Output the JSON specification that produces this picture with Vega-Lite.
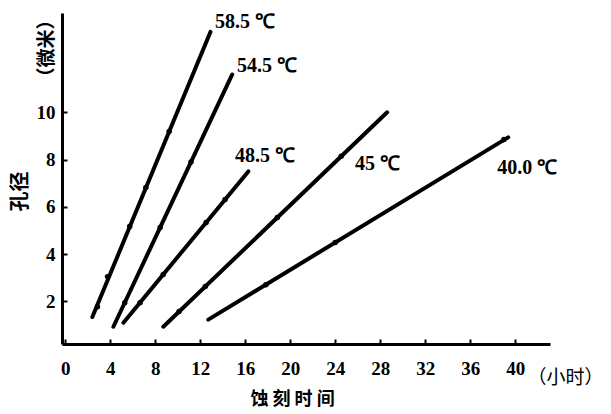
{
  "$schema": "https://vega.github.io/schema/vega-lite/v6.json",
  "width": 488,
  "height": 331,
  "autosize": {"type": "none"},
  "padding": {"left": 62, "top": 13, "right": 61, "bottom": 70},
  "background": "white",
  "config": {
    "view": {"stroke": null},
    "axis": {
      "domainColor": "black",
      "domainWidth": 3,
      "tickColor": "black",
      "tickWidth": 2,
      "tickSize": -5,
      "grid": false,
      "labelFont": "Liberation Serif",
      "labelFontWeight": "bold",
      "labelFontSize": 19,
      "labelColor": "black",
      "titleColor": "black",
      "titleFont": "Noto Sans CJK SC",
      "titleFontWeight": "bold"
    }
  },
  "datasets": {
    "lines": [
      {"series": "58.5", "t": 2.4, "d": 1.34},
      {"series": "58.5", "t": 12.9, "d": 13.4},
      {"series": "54.5", "t": 4.27, "d": 0.93},
      {"series": "54.5", "t": 14.84, "d": 11.6},
      {"series": "48.5", "t": 5.16, "d": 1.1},
      {"series": "48.5", "t": 16.27, "d": 7.5},
      {"series": "45", "t": 8.71, "d": 0.93},
      {"series": "45", "t": 28.62, "d": 10.0},
      {"series": "40.0", "t": 12.71, "d": 1.23},
      {"series": "40.0", "t": 39.38, "d": 8.94}
    ],
    "points": [
      {"series": "58.5", "t": 2.85, "d": 1.78},
      {"series": "58.5", "t": 3.75, "d": 3.05},
      {"series": "58.5", "t": 5.72, "d": 5.17},
      {"series": "58.5", "t": 7.16, "d": 6.82},
      {"series": "58.5", "t": 9.23, "d": 9.19},
      {"series": "54.5", "t": 5.28, "d": 1.95},
      {"series": "54.5", "t": 8.43, "d": 5.13},
      {"series": "54.5", "t": 11.17, "d": 7.9},
      {"series": "48.5", "t": 6.64, "d": 1.95},
      {"series": "48.5", "t": 8.7, "d": 3.14},
      {"series": "48.5", "t": 12.52, "d": 5.34},
      {"series": "48.5", "t": 14.2, "d": 6.31},
      {"series": "45", "t": 10.11, "d": 1.57},
      {"series": "45", "t": 12.44, "d": 2.63},
      {"series": "45", "t": 18.85, "d": 5.55},
      {"series": "45", "t": 24.53, "d": 8.14},
      {"series": "40.0", "t": 17.83, "d": 2.71},
      {"series": "40.0", "t": 24.0, "d": 4.49},
      {"series": "40.0", "t": 39.0, "d": 8.85}
    ],
    "labels": [
      {"label": "58.5 ℃", "t": 13.31, "d": 13.82},
      {"label": "54.5 ℃", "t": 15.27, "d": 11.96},
      {"label": "48.5 ℃", "t": 15.09, "d": 8.15},
      {"label": "45 ℃", "t": 25.76, "d": 7.81},
      {"label": "40.0 ℃", "t": 38.4, "d": 7.65}
    ]
  },
  "layer": [
    {
      "data": {"name": "lines"},
      "mark": {"type": "line", "color": "black", "strokeWidth": 4, "strokeCap": "round"},
      "encoding": {
        "x": {
          "field": "t", "type": "quantitative",
          "scale": {"domain": [-0.3, 43.1], "nice": false, "zero": false},
          "axis": {
            "values": [0, 4, 8, 12, 16, 20, 24, 28, 32, 36, 40],
            "labelPadding": 20,
            "title": "蚀 刻 时 间",
            "titleFontSize": 18,
            "titleX": 230,
            "titleY": 46,
            "titleAnchor": null,
            "titleAlign": "center",
            "titleBaseline": "top"
          }
        },
        "y": {
          "field": "d", "type": "quantitative",
          "scale": {"domain": [0.2, 14.2], "nice": false, "zero": false},
          "axis": {
            "values": [2, 4, 6, 8, 10],
            "labelPadding": 12,
            "title": "孔径",
            "titleFontSize": 20,
            "titleAngle": 270,
            "titleX": -42,
            "titleY": 178,
            "titleAlign": "center",
            "titleBaseline": "middle"
          }
        },
        "detail": {"field": "series"}
      }
    },
    {
      "data": {"name": "points"},
      "mark": {"type": "point", "filled": true, "color": "black", "size": 30, "opacity": 1},
      "encoding": {
        "x": {"field": "t", "type": "quantitative"},
        "y": {"field": "d", "type": "quantitative"}
      }
    },
    {
      "data": {"name": "labels"},
      "mark": {"type": "text", "align": "left", "baseline": "middle", "font": "Liberation Serif", "fontWeight": "bold", "fontSize": 20, "color": "black"},
      "encoding": {
        "x": {"field": "t", "type": "quantitative"},
        "y": {"field": "d", "type": "quantitative"},
        "text": {"field": "label"}
      }
    },
    {
      "data": {"values": [{"note": "（小时）", "t": 41.1, "d": -1.25}]},
      "mark": {"type": "text", "align": "left", "baseline": "middle", "font": "Noto Sans CJK SC", "fontSize": 19, "color": "black"},
      "encoding": {
        "x": {"field": "t", "type": "quantitative"},
        "y": {"field": "d", "type": "quantitative"},
        "text": {"field": "note"}
      }
    },
    {
      "data": {"values": [{"note": "（微米）", "t": -1.64, "d": 12.7}]},
      "mark": {"type": "text", "align": "center", "baseline": "middle", "angle": 270, "font": "Noto Sans CJK SC", "fontWeight": "bold", "fontSize": 19, "color": "black"},
      "encoding": {
        "x": {"field": "t", "type": "quantitative"},
        "y": {"field": "d", "type": "quantitative"},
        "text": {"field": "note"}
      }
    }
  ]
}
